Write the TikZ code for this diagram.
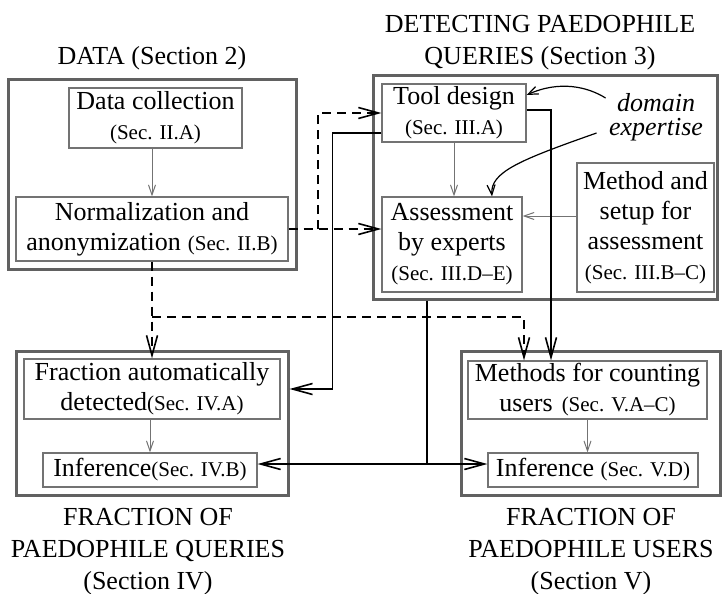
\documentclass[tikz,border=0pt]{standalone}
\usepackage{fontspec}
\setmainfont{Liberation Serif}
\usetikzlibrary{arrows.meta}
\usetikzlibrary{calc}

\newcommand{\secnote}[1]{{\fontsize{21}{24}\selectfont #1}}

\begin{document}
\begin{tikzpicture}[x=1pt,y=-1pt]

\tikzset{line/.style={draw,line width=1.6pt}}
\tikzset{arrow/.style={line,-{Straight Barb[length=20pt,width=11pt]}}}
\tikzset{dasharrow/.style={arrow,dash pattern=on 9pt off 6pt}}
\tikzset{subarrow/.style={draw,black!55,line width=1pt,-{Straight Barb[length=10pt,width=7pt]}}}
\tikzset{curvearrow/.style={draw,line width=1.2pt,-{Straight Barb[length=10pt,width=8pt]}}}
\tikzset{box/.style={draw,black!55,line width=1.2pt,inner sep=0pt,text=black,align=center,font=\fontsize{26}{30}\selectfont}}
\tikzset{group/.style={draw,black!62,line width=3pt,inner sep=0pt}}
\tikzset{title/.style={align=center,font=\fontsize{26}{32}\selectfont}}

\useasboundingbox (0,0) rectangle (723,594);

% outer groups
\node[group,minimum width=288pt,minimum height=189pt] (data) at (152,174.5) {};
\node[group,minimum width=344pt,minimum height=223pt] (detect) at (545,187.5) {};
\node[group,minimum width=272pt,minimum height=144pt] (queries) at (152,423) {};
\node[group,minimum width=259pt,minimum height=144pt] (users) at (590.5,423) {};

% titles
\node[title] (datatitle) at (152,58) {DATA (Section 2)};
\node[title] (detecttitle) at (540,43) {DETECTING PAEDOPHILE\\QUERIES (Section 3)};
\node[title] (queriestitle) at (148,552) {FRACTION OF\\PAEDOPHILE QUERIES\\(Section IV)};
\node[title] (userstitle) at (591,552) {FRACTION OF\\PAEDOPHILE USERS\\(Section V)};

% data
\node[box,minimum width=173pt,minimum height=60pt] (datacoll) at (155.5,118) {Data collection\\\secnote{(Sec. II.A)}};
\node[box,minimum width=272pt,minimum height=64pt] (norm) at (152,229) {Normalization and\\anonymization\hspace{7pt}\secnote{(Sec. II.B)}};

% detecting queries
\node[box,minimum width=144pt,minimum height=58pt] (tool) at (454,113) {Tool design\\\secnote{(Sec. III.A)}};
\node[box,minimum width=140pt,minimum height=95pt] (assess) at (452,244.5) {Assessment\\by experts\\\secnote{(Sec. III.D--E)}};
\node[box,minimum width=137pt,minimum height=129pt] (method) at (645.5,227.5) {Method and\\setup for\\assessment\\\secnote{(Sec. III.B--C)}};
\node[align=center,font=\fontsize{26}{24}\selectfont\itshape] (expert) at (656,117) {domain\\expertise};

% fraction of queries
\node[box,minimum width=256pt,minimum height=60pt] (fraction) at (152,389) {Fraction automatically\\detected\secnote{(Sec. IV.A)}};
\node[box,minimum width=214pt,minimum height=34pt] (infq) at (150,470) {Inference\secnote{(Sec. IV.B)}};

% fraction of users
\node[box,minimum width=239pt,minimum height=58pt] (mcount) at (587.5,390) {Methods for counting\\users\hspace{9pt}\secnote{(Sec. V.A--C)}};
\node[box,minimum width=210pt,minimum height=34pt] (infu) at (593,470) {Inference \secnote{(Sec. V.D)}};

% arrows inside the groups
\path[subarrow] (norm.north |- datacoll.south) to (norm.north);
\path[subarrow] (tool.south) to (tool.south |- assess.north);
\path[subarrow] ([yshift=11.5pt]method.west) to ([yshift=11.5pt]method.west -| assess.east);
\path[subarrow] (infq.north |- fraction.south) to (infq.north);
\path[subarrow] (mcount.south) to (mcount.south |- infu.north);

% domain expertise
\path[curvearrow] ([yshift=19pt]expert.west) .. controls (588,87) and (560,80) .. ([yshift=18pt]tool.east);
\path[curvearrow] ([shift={(-9pt,-16pt)}]expert.west) .. controls (520,160) and (490,172) .. ([xshift=40pt]assess.north);

% data to detecting and fractions
\coordinate (djoin) at (318,229);
\coordinate (qjoin) at (152,317);
\path[dasharrow] (norm.east) to (assess.west |- norm.east);
\path[dasharrow] (djoin) |- (tool.west);
\path[dasharrow] (norm.south) to (norm.south |- fraction.north);
\path[dasharrow] (qjoin) -| ([xshift=-63.5pt]mcount.north);

% detecting to fractions
\path[arrow] ([yshift=3pt]tool.east) -| ([xshift=-36.5pt]mcount.north);
\path[arrow] ([yshift=-20pt]tool.west) -- ++(-49,0) |- (queries.east |- fraction.east);

\coordinate (ijoin) at (427,464);
\path[line] (ijoin |- detect.south) to (ijoin);
\path[arrow] (ijoin) to (infq.east |- ijoin);
\path[arrow] (ijoin) to (infu.west |- ijoin);

\end{tikzpicture}
\end{document}
